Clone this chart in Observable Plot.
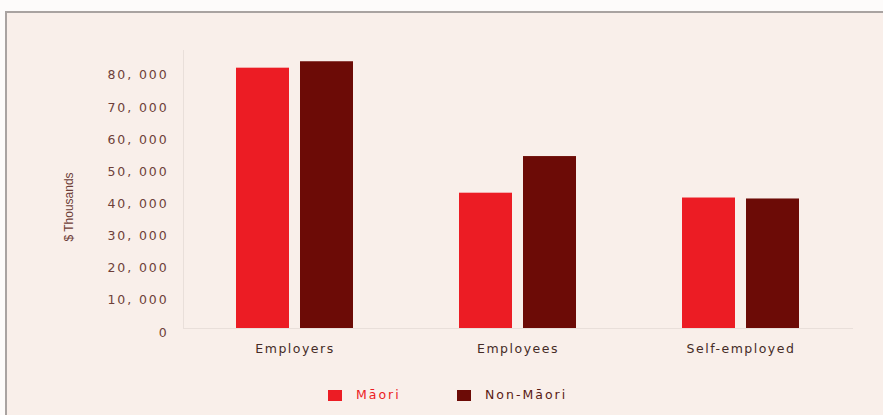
<!DOCTYPE html>
<html>
<head>
<meta charset="utf-8">
<script src="https://cdn.jsdelivr.net/npm/d3@7"></script>
<script src="https://cdn.jsdelivr.net/npm/@observablehq/plot@0.6"></script>
<style>
  html, body { margin: 0; padding: 0; }
  body { width: 883px; height: 415px; overflow: hidden; background: #fdfbfa; position: relative; font-family: "DejaVu Sans", sans-serif; }
  #box { position: absolute; left: 5px; top: 11px; width: 900px; height: 420px; background: #f9efea; border-left: 2px solid #a9a3a1; border-top: 2px solid #a9a3a1; }
  #chart { position: absolute; left: 0; top: 0; }
  #chart g[aria-label="y-axis tick label"] text { letter-spacing: 1.9px; font-size: 12.5px; }
  #chart g[aria-label="x-axis tick label"] text { letter-spacing: 1.5px; font-size: 12.5px; }
  #ylabel { position: absolute; left: 69px; top: 207px; transform: translate(-50%, -50%) rotate(-90deg); font-family: "Liberation Sans", sans-serif; font-size: 12px; color: #6e3d37; white-space: nowrap; }
  .leg { position: absolute; top: 388px; display: flex; align-items: center; font-size: 12.5px; letter-spacing: 2px; line-height: 14px; }
  .sw { width: 14px; height: 11px; margin-right: 14px; }
</style>
</head>
<body>
<div id="box"></div>
<div id="chart"></div>
<div id="ylabel">$ Thousands</div>
<div id="legend"></div>
<script>
const categories = ["Employers", "Employees", "Self-employed"];
const groups = ["Māori", "Non-Māori"];
const maoriValues = [81000, 42100, 40600];
const nonMaoriValues = [83000, 53500, 40300];
const yTicks = [0, 10000, 20000, 30000, 40000, 50000, 60000, 70000, 80000];
const colors = ["#ec1c24", "#6c0b06"];

const maoriData = categories.map((c, i) => ({category: c, group: groups[0], value: maoriValues[i]}));
const nonMaoriData = categories.map((c, i) => ({category: c, group: groups[1], value: nonMaoriValues[i]}));

const fmt = d => d3.format(",")(d).replace(",", ", ");

const chart = Plot.plot({
  width: 883,
  height: 370,
  marginLeft: 183,
  marginRight: 30,
  marginTop: 50,
  marginBottom: 42,
  style: {background: "transparent", fontFamily: "DejaVu Sans, sans-serif"},
  x: {domain: categories, paddingInner: 0.475, paddingOuter: 0.2375, axis: null},
  y: {domain: [0, 86500], axis: null},
  color: {domain: groups, range: colors},
  marks: [
    Plot.frame({anchor: "left", stroke: "#e9dfda", strokeOpacity: 1}),
    Plot.ruleY([0], {stroke: "#e9dfda"}),
    Plot.barY(maoriData, {x: "category", y: "value", fill: "group", insetRight: 64}),
    Plot.barY(nonMaoriData, {x: "category", y: "value", fill: "group", insetLeft: 64}),
    Plot.axisX({tickSize: 0, tickPadding: 16, fontSize: 12.5, fill: "#452b26", label: null}),
    Plot.axisY(yTicks, {tickSize: 0, tickPadding: 15, tickFormat: fmt, dy: 4, fontSize: 12.5, fill: "#6e3f39", label: null})
  ]
});
document.getElementById("chart").appendChild(chart);

const legend = document.getElementById("legend");
const legendPos = [328, 457];
groups.forEach((g, i) => {
  const item = document.createElement("div");
  item.className = "leg";
  item.style.left = legendPos[i] + "px";
  item.style.color = i === 0 ? colors[0] : "#5a1a14";
  const sw = document.createElement("div");
  sw.className = "sw";
  sw.style.background = colors[i];
  const t = document.createElement("span");
  t.textContent = g;
  item.appendChild(sw);
  item.appendChild(t);
  legend.appendChild(item);
});
</script>
</body>
</html>
